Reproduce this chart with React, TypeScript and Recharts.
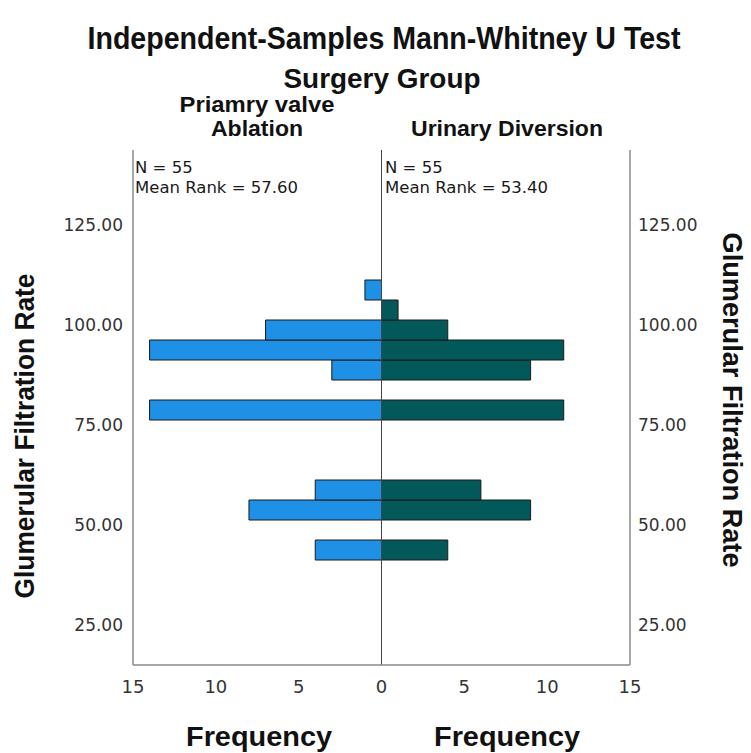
import React from "react"
import { BarChart, Bar, XAxis, YAxis, ReferenceLine } from "recharts"

// GFR histogram bins (bin centres) and counts per group
const gfrBins = [43.75, 48.75, 53.75, 58.75, 63.75, 68.75, 73.75, 78.75, 83.75, 88.75, 93.75, 98.75, 103.75, 108.75]
const ablationFreq = [4, 0, 8, 4, 0, 0, 0, 14, 0, 3, 14, 7, 0, 1]
const diversionFreq = [4, 0, 9, 6, 0, 0, 0, 11, 0, 9, 11, 4, 1, 0]

const freqTicks = [-15, -10, -5, 0, 5, 10, 15]
const gfrTicks = [25, 50, 75, 100, 125]

const groupNames = ["Priamry valve", "Ablation", "Urinary Diversion"]
const groupStats = [
  { n: 55, meanRank: "57.60" },
  { n: 55, meanRank: "53.40" },
]

// left side is drawn as negative so both halves share one axis
const data = gfrBins.map((gfr, i) => ({
  gfr,
  ablation: -ablationFreq[i],
  diversion: diversionFreq[i],
}))

const boldFont = "'Liberation Sans', Arial, sans-serif"
const smallFont = "'DejaVu Sans', Verdana, sans-serif"

export default function App() {
  return (
    <div style={{ position: "absolute", left: 0, top: 0, width: 751, height: 753, background: "#fff", overflow: "hidden" }}>
      <BarChart
        width={751}
        height={753}
        data={data}
        layout="vertical"
        stackOffset="sign"
        barCategoryGap={0}
        barGap={0}
        margin={{ top: 150, right: 0, bottom: 0, left: 0 }}
      >
        <XAxis
          type="number"
          domain={[-15, 15]}
          ticks={freqTicks}
          tickFormatter={(v: number) => String(Math.abs(v))}
          height={88}
          tickLine={false}
          tickSize={0}
          tickMargin={15}
          axisLine={{ stroke: "#8a8a8a", strokeWidth: 1.5 }}
          tick={{ fontSize: 18, fill: "#333", fontFamily: smallFont }}
          allowDataOverflow
        />
        <YAxis
          yAxisId="left"
          type="number"
          dataKey="gfr"
          domain={[15, 143.75]}
          ticks={gfrTicks}
          reversed
          tickFormatter={(v: number) => v.toFixed(2)}
          width={133}
          tickLine={false}
          tickSize={0}
          tickMargin={10}
          axisLine={{ stroke: "#8a8a8a", strokeWidth: 1.5 }}
          tick={{ fontSize: 17, fill: "#333", fontFamily: smallFont }}
          allowDataOverflow
        />
        <YAxis
          yAxisId="right"
          orientation="right"
          type="number"
          dataKey="gfr"
          domain={[15, 143.75]}
          ticks={gfrTicks}
          reversed
          tickFormatter={(v: number) => v.toFixed(2)}
          width={121}
          tickLine={false}
          tickSize={0}
          tickMargin={8}
          axisLine={{ stroke: "#8a8a8a", strokeWidth: 1.5 }}
          tick={{ fontSize: 17, fill: "#333", fontFamily: smallFont }}
          allowDataOverflow
        />
        <Bar yAxisId="left" dataKey="ablation" stackId="g" fill="#1e90e6" stroke="#1a1a1a" strokeWidth={1} isAnimationActive={false} />
        <Bar yAxisId="left" dataKey="diversion" stackId="g" fill="#03585a" stroke="#1a1a1a" strokeWidth={1} isAnimationActive={false} />
        <ReferenceLine yAxisId="left" x={0} stroke="#444" strokeWidth={1} />
      </BarChart>

      <svg width={751} height={753} style={{ position: "absolute", left: 0, top: 0, pointerEvents: "none" }}>
        <g fontFamily={boldFont} fontWeight="bold" fill="#111" textAnchor="middle">
          <text x={384} y={49} fontSize={31} textLength={593} lengthAdjust="spacingAndGlyphs">
            Independent-Samples Mann-Whitney U Test
          </text>
          <text x={382} y={88} fontSize={28} textLength={197} lengthAdjust="spacingAndGlyphs">
            Surgery Group
          </text>
          <text x={257} y={112} fontSize={22} textLength={155} lengthAdjust="spacingAndGlyphs">
            {groupNames[0]}
          </text>
          <text x={257} y={136} fontSize={22} textLength={92} lengthAdjust="spacingAndGlyphs">
            {groupNames[1]}
          </text>
          <text x={507} y={136} fontSize={22} textLength={192} lengthAdjust="spacingAndGlyphs">
            {groupNames[2]}
          </text>
          <text x={259} y={746} fontSize={28} textLength={146} lengthAdjust="spacingAndGlyphs">
            Frequency
          </text>
          <text x={507} y={746} fontSize={28} textLength={146} lengthAdjust="spacingAndGlyphs">
            Frequency
          </text>
          <text
            transform="translate(34,436) rotate(-90)"
            fontSize={27}
            textLength={325}
            lengthAdjust="spacingAndGlyphs"
          >
            Glumerular Filtration Rate
          </text>
          <text
            transform="translate(723,400) rotate(90)"
            fontSize={27}
            textLength={335}
            lengthAdjust="spacingAndGlyphs"
          >
            Glumerular Filtration Rate
          </text>
        </g>
        <g fontFamily={smallFont} fontSize={16.5} fill="#1a1a1a">
          <text x={135} y={173}>N = {groupStats[0].n}</text>
          <text x={135} y={193}>Mean Rank = {groupStats[0].meanRank}</text>
          <text x={385} y={173}>N = {groupStats[1].n}</text>
          <text x={385} y={193}>Mean Rank = {groupStats[1].meanRank}</text>
        </g>
      </svg>
    </div>
  )
}
